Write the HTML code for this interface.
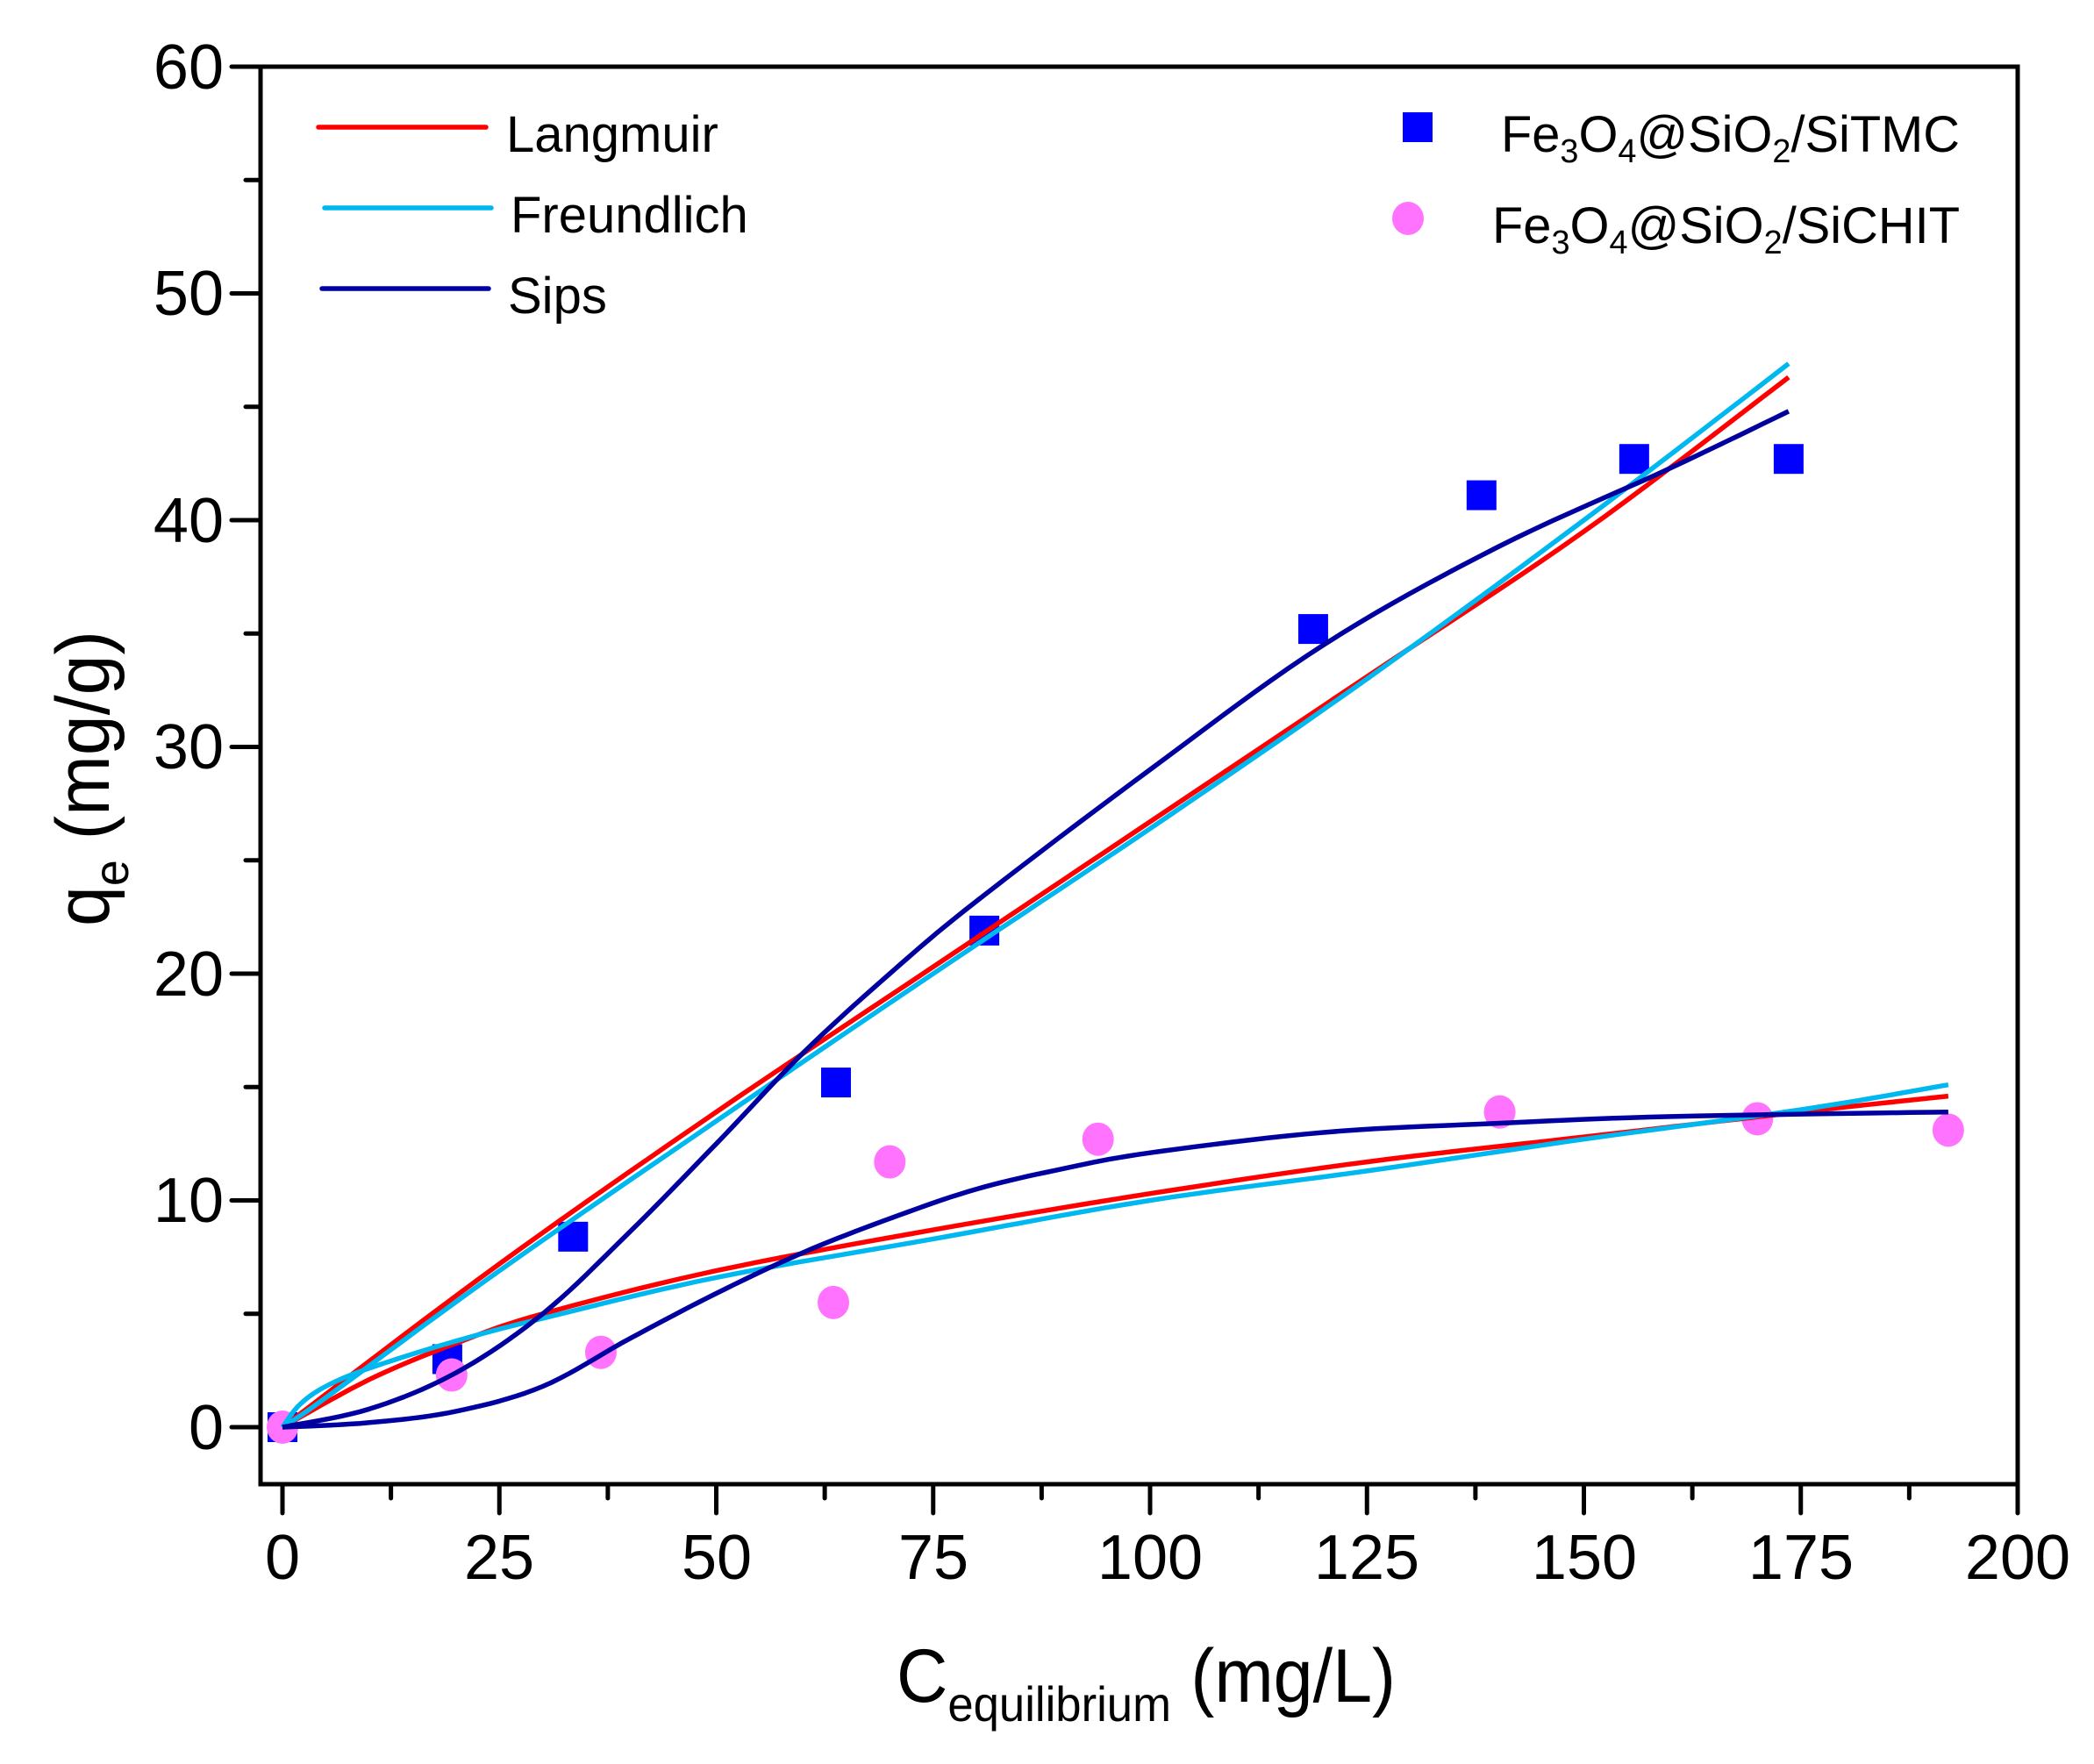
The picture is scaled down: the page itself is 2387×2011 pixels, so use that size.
<!DOCTYPE html>
<html><head><meta charset="utf-8"><style>
html,body{margin:0;padding:0;background:#fff;}
svg{display:block;}
text{font-family:"Liberation Sans",Arial,sans-serif;fill:#000;}
</style></head><body>
<svg id="s" width="2387" height="2011" viewBox="0 0 2387 2011" xmlns="http://www.w3.org/2000/svg">
<rect width="2387" height="2011" fill="#fff"/>
<g id="ticks" stroke="#000" stroke-width="5" stroke-linecap="round"></g>
<rect x="297" y="76" width="2003" height="1616" fill="none" stroke="#000" stroke-width="5"/>
<g id="pts"></g>
<g id="curves" fill="none" stroke-width="5.5" stroke-linejoin="round"></g>
<g font-size="72" text-anchor="middle">
<text x="322" y="1800">0</text><text x="569" y="1800">25</text><text x="817" y="1800">50</text>
<text x="1064" y="1800">75</text><text x="1311" y="1800">100</text><text x="1558" y="1800">125</text>
<text x="1806" y="1800">150</text><text x="2053" y="1800">175</text><text x="2300" y="1800">200</text>
</g>
<g font-size="72" text-anchor="end">
<text x="255" y="1652">0</text><text x="255" y="1393">10</text><text x="255" y="1135">20</text>
<text x="255" y="876">30</text><text x="255" y="618">40</text><text x="255" y="359">50</text>
<text x="255" y="101">60</text>
</g>
<text x="1022" y="1940" font-size="86" textLength="569" lengthAdjust="spacingAndGlyphs">C<tspan font-size="56" dy="22">equilibrium</tspan><tspan dy="-22"> (mg/L)</tspan></text>
<text transform="translate(124,1056) rotate(-90)" font-size="86" textLength="337" lengthAdjust="spacingAndGlyphs">q<tspan font-size="56" dy="22">e</tspan><tspan dy="-22"> (mg/g)</tspan></text>
<g stroke-width="5.5" stroke-linecap="round">
<line x1="363" y1="145" x2="554" y2="145" stroke="#FF0000"/>
<line x1="370" y1="237" x2="560" y2="237" stroke="#00B8F0"/>
<line x1="367" y1="329" x2="557" y2="329" stroke="#0000A0"/>
</g>
<g font-size="58">
<text x="577" y="173">Langmuir</text>
<text x="582" y="265">Freundlich</text>
<text x="579" y="357">Sips</text>
</g>
<rect x="1599" y="128" width="34" height="34" fill="#0000FF"/>
<ellipse cx="1605" cy="249" rx="18" ry="19" fill="#FF73FF"/>
<text x="1711" y="173" font-size="58" textLength="523" lengthAdjust="spacingAndGlyphs">Fe<tspan font-size="38" dy="12">3</tspan><tspan dy="-12">O</tspan><tspan font-size="38" dy="12">4</tspan><tspan dy="-12">@SiO</tspan><tspan font-size="38" dy="12">2</tspan><tspan dy="-12">/SiTMC</tspan></text>
<text x="1701" y="277" font-size="58" textLength="533" lengthAdjust="spacingAndGlyphs">Fe<tspan font-size="38" dy="12">3</tspan><tspan dy="-12">O</tspan><tspan font-size="38" dy="12">4</tspan><tspan dy="-12">@SiO</tspan><tspan font-size="38" dy="12">2</tspan><tspan dy="-12">/SiCHIT</tspan></text>
</svg>
<script>
var NS="http://www.w3.org/2000/svg";
function X(v){return 322+9.89*v;} function Y(v){return 1627-25.85*v;}
function el(p,t,a){var e=document.createElementNS(NS,t);for(var k in a)e.setAttribute(k,a[k]);p.appendChild(e);return e;}
var tk=document.getElementById('ticks');
for(var v=0;v<=200;v+=12.5){var maj=(v%25===0);el(tk,'line',{x1:X(v),y1:1692,x2:X(v),y2:maj?1725:1708});}
for(var v=0;v<=60;v+=5){var maj=(v%10===0);el(tk,'line',{x1:297,y1:Y(v),x2:maj?264:280,y2:Y(v)});}
var pts=document.getElementById('pts');
var sq=[[0,0],[19,3],[33.5,8.4],[63.8,15.2],[80.9,21.9],[118.8,35.2],[138.2,41.1],[155.8,42.7],[173.6,42.7]];
var ci=[[0,0],[19.5,2.3],[36.7,3.3],[63.5,5.5],[70,11.7],[94,12.7],[140.3,13.9],[170,13.6],[192,13.1]];
sq.forEach(function(p){el(pts,'rect',{x:X(p[0])-17,y:Y(p[1])-17,width:34,height:34,fill:'#0000FF'});});
ci.forEach(function(p){el(pts,'ellipse',{cx:X(p[0]),cy:Y(p[1]),rx:18,ry:19,fill:'#FF73FF'});});
function cr(P){var d='M'+X(P[0][0])+','+Y(P[0][1]);
for(var i=0;i<P.length-1;i++){var p0=P[Math.max(i-1,0)],p1=P[i],p2=P[i+1],p3=P[Math.min(i+2,P.length-1)];
for(var t=0.1;t<=1.0001;t+=0.1){var t2=t*t,t3=t2*t;
function f(a,b,c,e){return 0.5*((2*b)+(-a+c)*t+(2*a-5*b+4*c-e)*t2+(-a+3*b-3*c+e)*t3);}
d+=' L'+X(f(p0[0],p1[0],p2[0],p3[0])).toFixed(1)+','+Y(f(p0[1],p1[1],p2[1],p3[1])).toFixed(1);}}
return d;}
var cv=document.getElementById('curves');
var curves=[
['#FF0000',[[0,0],[25,7.2],[50,13.9],[75,20.3],[100,26.7],[125,33.1],[150,39.5],[173.6,46.3]]],
['#FF0000',[[0,0],[10,2.1],[20,3.7],[30,5.0],[50,6.9],[75,8.7],[100,10.3],[125,11.7],[150,12.8],[175,13.9],[192,14.6]]],
['#00B8F0',[[0,0],[5,1.3],[25,6.9],[50,13.5],[75,20],[100,26.4],[125,33],[150,40],[173.6,46.9]]],
['#00B8F0',[[0,0],[2,1],[5,1.8],[10,2.6],[20,3.8],[30,4.8],[50,6.6],[75,8.3],[100,10],[125,11.3],[150,12.7],[175,14],[192,15.1]]],
['#0000A0',[[0,0],[10,0.8],[20,2.4],[30,5],[40,8.6],[50,12.5],[60,16.5],[70,20],[80,23.2],[100,29],[120,34.5],[140,38.8],[160,42.3],[173.6,44.8]]],
['#0000A0',[[0,0],[10,0.2],[20,0.7],[30,1.8],[40,3.9],[50,5.9],[60,7.7],[70,9.2],[80,10.5],[90,11.4],[100,12.1],[120,13.0],[140,13.4],[160,13.7],[192,13.9]]]
];
curves.forEach(function(c){el(cv,'path',{d:cr(c[1]),stroke:c[0]});});
</script>
</body></html>
